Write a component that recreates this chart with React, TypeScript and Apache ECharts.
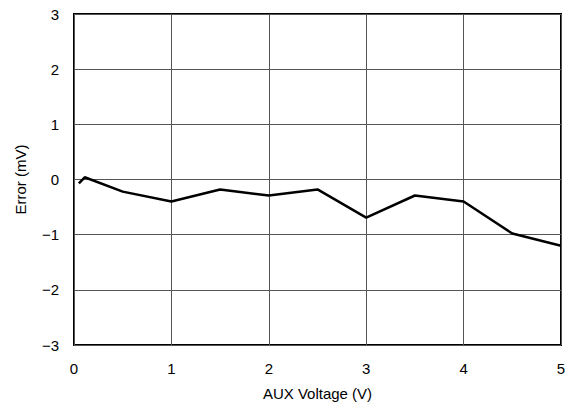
import React, { useEffect, useRef } from "react";
import * as echarts from "echarts";

const xValues = [0.05, 0.11, 0.5, 1.0, 1.5, 2.0, 2.5, 3.0, 3.5, 4.0, 4.5, 5.0];
const yValues = [-0.07, 0.04, -0.22, -0.4, -0.18, -0.29, -0.18, -0.69, -0.29, -0.4, -0.98, -1.2];

export default function App() {
  const ref = useRef<HTMLDivElement>(null);
  useEffect(() => {
    if (!ref.current) return;
    const chart = echarts.init(ref.current, null, { renderer: "svg" });
    const font = "'Liberation Sans', Arial, sans-serif";
    chart.setOption({
      animation: false,
      backgroundColor: "#fff",
      grid: { left: 74, top: 14, right: 16, bottom: 63, show: true, borderColor: "#000", borderWidth: 2 },
      xAxis: {
        type: "value",
        min: 0,
        max: 5,
        interval: 1,
        name: "AUX Voltage (V)",
        nameLocation: "middle",
        nameGap: 41,
        nameTextStyle: { fontFamily: font, fontSize: 15, color: "#000" },
        axisLine: { show: false },
        axisTick: { show: false },
        axisLabel: { fontFamily: font, fontSize: 15, color: "#000", margin: 16 },
        splitLine: { show: true, lineStyle: { color: "#555", width: 1 } },
      },
      yAxis: {
        type: "value",
        min: -3,
        max: 3,
        interval: 1,
        name: "Error (mV)",
        nameLocation: "middle",
        nameGap: 46,
        nameTextStyle: { fontFamily: font, fontSize: 15, color: "#000" },
        axisLine: { show: false },
        axisTick: { show: false },
        axisLabel: {
          fontFamily: font,
          fontSize: 15,
          color: "#000",
          margin: 15,
          formatter: (v: number) => (v < 0 ? "\u2212" + Math.abs(v) : String(v)),
        },
        splitLine: { show: true, lineStyle: { color: "#555", width: 1 } },
      },
      series: [
        {
          type: "line",
          data: xValues.map((x, i) => [x, yValues[i]]),
          symbol: "none",
          lineStyle: { color: "#000", width: 2.5 },
        },
      ],
    });
    return () => chart.dispose();
  }, []);
  return <div ref={ref} style={{ width: 577, height: 408, position: "absolute", left: 0, top: 0 }} />;
}
